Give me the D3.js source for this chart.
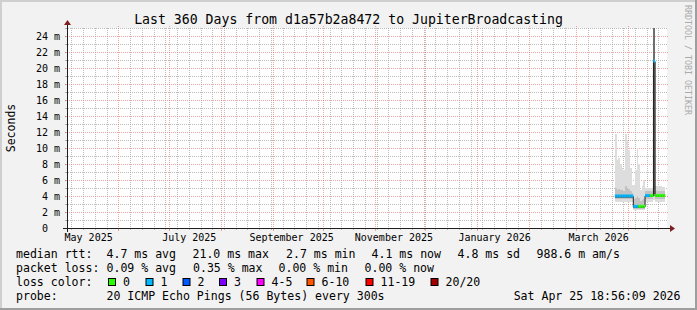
<!DOCTYPE html>
<html>
<head>
<meta charset="utf-8">
<script src="https://cdn.jsdelivr.net/npm/d3@7/dist/d3.min.js"></script>
<style>
  body { margin: 0; background: #f2f2f2; }
  svg { display: block; font-family: "DejaVu Sans Mono", monospace; }
  text { white-space: pre; }
</style>
</head>
<body>
<svg></svg>
<script>
const W = 697, H = 310;
const plotLeft = 67, plotRight = 667, plotTop = 28, plotBottom = 228;

// visible window of the 360 day graph
const viewStart = new Date(2025, 4, 1, 10, 0);
const viewEnd = new Date(2026, 3, 24, 2, 0);

// one consolidated row per day, only the last month has data
const days = [
  "2026-03-24", "2026-03-25", "2026-03-26", "2026-03-27", "2026-03-28",
  "2026-03-29", "2026-03-30", "2026-03-31", "2026-04-01", "2026-04-02",
  "2026-04-03", "2026-04-04", "2026-04-05", "2026-04-06", "2026-04-07",
  "2026-04-08", "2026-04-09", "2026-04-10", "2026-04-11", "2026-04-12",
  "2026-04-13", "2026-04-14", "2026-04-15", "2026-04-16", "2026-04-17",
  "2026-04-18", "2026-04-19", "2026-04-20", "2026-04-21", "2026-04-22"
];
// median rtt in ms
const median = [
  3.95, 3.95, 3.95, 3.95, 3.95, 3.95, 3.95, 3.95, 3.95, 3.95,
  3.95, 2.65, 2.65, 2.65, 2.65, 2.65, 2.65, 2.65, 4.0, 4.0,
  4.0, 4.0, 4.0, 20.8, 4.0, 4.0, 4.0, 4.0, 4.0, 4.0
];
// lost pings (of 20)
const loss = [
  0.1, 0.1, 0.1, 0.1, 0.1, 0.1, 0.1, 0.1, 0.1, 0.1,
  0.1, 0.1, 0.1, 0.1, 0, 0, 0, 0, 0.1, 0.1,
  0.1, 0, 0, 0.1, 0, 0, 0, 0, 0, 0
];
// smoke: spread of the 20 pings (ms)
const smokeMin = [
  3.3, 3.3, 3.3, 3.3, 3.3, 3.3, 3.3, 3.3, 3.3, 3.3,
  3.3, 2.2, 2.2, 2.2, 2.2, 2.2, 2.2, 2.2, 3.2, 3.2,
  3.2, 3.2, 3.2, 3.5, 3.3, 3.3, 3.3, 3.3, 3.3, 3.3
];
const smokeMax = [
  11.8, 8.5, 8.8, 8.0, 7.5, 7.2, 11.8, 11.0, 9.8, 7.5,
  5.4, 5.4, 7.2, 10.0, 8.0, 4.8, 5.2, 6.0, 5.0, 5.0,
  5.0, 5.0, 5.0, 26.0, 5.2, 5.2, 5.2, 5.2, 5.1, 5.1
];
const smokeMidLo = [
  3.6, 3.6, 3.6, 3.6, 3.6, 3.6, 3.6, 3.6, 3.6, 3.6,
  3.6, 2.4, 2.4, 2.4, 2.4, 2.4, 2.4, 2.4, 3.6, 3.6,
  3.6, 3.6, 3.6, 4.0, 3.6, 3.6, 3.6, 3.6, 3.6, 3.6
];
const smokeMidHi = [
  5.0, 4.8, 4.9, 4.8, 4.7, 4.6, 5.2, 5.0, 4.9, 4.6,
  4.4, 3.6, 3.8, 4.0, 3.8, 3.4, 3.5, 3.6, 4.6, 4.6,
  4.6, 4.6, 4.6, 26.0, 4.6, 4.6, 4.6, 4.6, 4.6, 4.6
];
const smokeCoreLo = [
  3.8, 3.8, 3.8, 3.8, 3.8, 3.8, 3.8, 3.8, 3.8, 3.8,
  3.8, 2.5, 2.5, 2.5, 2.5, 2.5, 2.5, 2.5, 3.9, 3.9,
  3.9, 3.9, 3.9, 4.2, 3.9, 3.9, 3.9, 3.9, 3.9, 3.9
];
const smokeCoreHi = [
  4.1, 4.1, 4.1, 4.1, 4.1, 4.1, 4.1, 4.1, 4.1, 4.1,
  4.1, 2.8, 2.8, 2.8, 2.8, 2.8, 2.8, 2.8, 4.1, 4.1,
  4.1, 4.1, 4.1, 26.0, 4.1, 4.1, 4.1, 4.1, 4.1, 4.1
];

const yTicks = [0, 2, 4, 6, 8, 10, 12, 14, 16, 18, 20, 22, 24];
const xLabels = ["May 2025", "July 2025", "September 2025", "November 2025", "January 2026", "March 2026"];
const xLabelDates = ["2025-05-14", "2025-07-13", "2025-09-12", "2025-11-12", "2026-01-11", "2026-03-14"];

const lossLabels = ["0", "1", "2", "3", "4-5", "6-10", "11-19", "20/20"];
const lossUpper = [0, 1, 2, 3, 5, 10, 19, 20];
const lossColors = ["#26ff00", "#00b8ff", "#0059ff", "#7e00ff", "#ff00ff", "#ff5500", "#ff0000", "#a10000"];

const rttLegend = ["median rtt:", "4.7 ms avg", "21.0 ms max", "2.7 ms min", "4.1 ms now", "4.8 ms sd", "988.6 m am/s"];
const lossLegend = ["packet loss:", "0.09 % avg", "0.35 % max", "0.00 % min", "0.00 % now"];
const probeLegend = ["probe:", "20 ICMP Echo Pings (56 Bytes) every 300s"];
const stamp = "Sat Apr 25 18:56:09 2026";
const title = "Last 360 Days from d1a57b2a8472 to JupiterBroadcasting";

const parseDay = d3.timeParse("%Y-%m-%d");
const rows = days.map((d, i) => ({
  t0: parseDay(d),
  t1: d3.timeDay.offset(parseDay(d), 1),
  med: median[i], loss: loss[i],
  min: smokeMin[i], max: smokeMax[i],
  midLo: smokeMidLo[i], midHi: smokeMidHi[i],
  coreLo: smokeCoreLo[i], coreHi: smokeCoreHi[i]
}));

const svg = d3.select('svg')
  .attr('width', W)
  .attr('height', H);

// background + 3d frame
svg.append('rect').attr('width', W).attr('height', H).attr('fill', '#f2f2f2');
svg.append('path').attr('d', `M0,0H${W}V2H2V${H}H0Z`).attr('fill', '#cfcfcf');
svg.append('path').attr('d', `M${W},${H}H0V${H - 2}H${W - 2}V0H${W}Z`).attr('fill', '#9e9e9e');

svg.append('rect')
  .attr('x', plotLeft).attr('y', plotTop)
  .attr('width', plotRight - plotLeft).attr('height', plotBottom - plotTop)
  .attr('fill', '#ffffff');

const x = d3.scaleTime().domain([viewStart, viewEnd]).range([plotLeft, plotRight]);
const y = d3.scaleLinear().domain([0, 25]).range([plotBottom, plotTop]);

const grid = svg.append('g').attr('shape-rendering', 'crispEdges');
const minorCol = 'rgba(143,143,143,0.6)';
const majorCol = 'rgba(222,79,79,0.5)';

// horizontal grid
d3.range(1, 26).forEach(v => {
  const major = yTicks.includes(v);
  const yy = Math.round(y(v)) + 0.5;
  grid.append('line')
    .attr('x1', plotLeft - (major ? 2 : 1)).attr('x2', plotRight + (major ? 2 : 1))
    .attr('y1', yy).attr('y2', yy)
    .attr('stroke', major ? majorCol : minorCol)
    .attr('stroke-dasharray', '1,1');
  grid.append('line')
    .attr('x1', plotLeft - 2).attr('x2', plotLeft)
    .attr('y1', yy).attr('y2', yy)
    .attr('stroke', major ? majorCol : minorCol);
});

// vertical grid: weeks (minor) and months (major)
const months = d3.timeMonth.range(d3.timeMonth.ceil(viewStart), viewEnd);
const weeks = d3.timeSunday.range(viewStart, viewEnd)
  .filter(d => !months.some(m => +m === +d));
weeks.forEach(d => {
  const xx = Math.round(x(d)) + 0.5;
  grid.append('line')
    .attr('x1', xx).attr('x2', xx)
    .attr('y1', plotTop).attr('y2', plotBottom)
    .attr('stroke', minorCol).attr('stroke-dasharray', '1,1');
  grid.append('line')
    .attr('x1', xx).attr('x2', xx)
    .attr('y1', plotBottom).attr('y2', plotBottom + 2)
    .attr('stroke', minorCol);
});
months.forEach(d => {
  const xx = Math.round(x(d)) + 0.5;
  grid.append('line')
    .attr('x1', xx).attr('x2', xx)
    .attr('y1', plotTop - 2).attr('y2', plotBottom)
    .attr('stroke', majorCol).attr('stroke-dasharray', '1,1');
  grid.append('line')
    .attr('x1', xx).attr('x2', xx)
    .attr('y1', plotBottom).attr('y2', plotBottom + 3)
    .attr('stroke', majorCol);
});

// smoke
svg.append('clipPath').attr('id', 'plot')
  .append('rect')
  .attr('x', plotLeft).attr('y', plotTop)
  .attr('width', plotRight - plotLeft).attr('height', plotBottom - plotTop);

const data = svg.append('g').attr('clip-path', 'url(#plot)');
const bands = [
  { lo: 'min', hi: 'max', color: '#dddddd' },
  { lo: 'midLo', hi: 'midHi', color: '#c2c2c2' },
  { lo: 'coreLo', hi: 'coreHi', color: '#6e6e6e' }
];
bands.forEach(b => {
  data.append('g').selectAll('rect')
    .data(rows)
    .join('rect')
    .attr('x', d => x(d.t0))
    .attr('width', d => x(d.t1) - x(d.t0))
    .attr('y', d => y(d[b.hi]))
    .attr('height', d => y(d[b.lo]) - y(d[b.hi]))
    .attr('fill', b.color)
    .attr('shape-rendering', 'crispEdges');
});

// median line
const stepPts = rows.map(d => [d.t0, d.med]).concat([[rows[rows.length - 1].t1, rows[rows.length - 1].med]]);
data.append('path')
  .datum(stepPts)
  .attr('d', d3.line().x(d => x(d[0])).y(d => y(d[1])).curve(d3.curveStepAfter))
  .attr('fill', 'none')
  .attr('stroke', '#202020')
  .attr('stroke-width', 1);

const lossColor = v => lossColors[lossUpper.findIndex(u => v <= u)];
data.append('g').selectAll('rect')
  .data(rows)
  .join('rect')
  .attr('x', d => x(d.t0))
  .attr('width', d => x(d.t1) - x(d.t0))
  .attr('y', d => y(d.med) - 2)
  .attr('height', 3)
  .attr('fill', d => lossColor(d.loss));

// axes
const axisCol = '#1f1f1f', arrowCol = '#801f1f';
svg.append('line')
  .attr('x1', plotLeft - 4).attr('x2', plotRight + 4)
  .attr('y1', plotBottom + 0.5).attr('y2', plotBottom + 0.5)
  .attr('stroke', axisCol);
svg.append('line')
  .attr('x1', plotLeft + 0.5).attr('x2', plotLeft + 0.5)
  .attr('y1', plotBottom + 4).attr('y2', plotTop - 4)
  .attr('stroke', axisCol);
svg.append('path')
  .attr('d', `M${plotRight + 3},${plotBottom - 3}L${plotRight + 8},${plotBottom + 0.5}L${plotRight + 3},${plotBottom + 4}Z`)
  .attr('fill', arrowCol);
svg.append('path')
  .attr('d', `M${plotLeft - 3},${plotTop - 3}L${plotLeft + 0.5},${plotTop - 8}L${plotLeft + 4},${plotTop - 3}Z`)
  .attr('fill', arrowCol);

const yAxis = d3.axisLeft(y)
  .tickValues(yTicks)
  .tickSize(0)
  .tickPadding(0)
  .tickFormat(v => v === 0 ? '0  ' : `${v} m`);
svg.append('g')
  .attr('transform', `translate(60,0)`)
  .call(yAxis)
  .call(g => g.select('.domain').remove())
  .selectAll('text')
  .attr('font-family', '"DejaVu Sans Mono", monospace')
  .attr('font-size', 10)
  .attr('fill', '#000');

const xAxis = d3.axisBottom(x)
  .tickValues(xLabelDates.map(parseDay))
  .tickSize(0)
  .tickPadding(0)
  .tickFormat((d, i) => xLabels[i]);
svg.append('g')
  .attr('transform', `translate(0,${plotBottom})`)
  .call(xAxis)
  .call(g => g.select('.domain').remove())
  .selectAll('text')
  .attr('dy', null)
  .attr('y', 13)
  .attr('font-family', '"DejaVu Sans Mono", monospace')
  .attr('font-size', 10)
  .attr('fill', '#000');

// titles
svg.append('text')
  .attr('x', W / 2).attr('y', 24)
  .attr('text-anchor', 'middle')
  .attr('font-size', 13.2)
  .text(title);

svg.append('text')
  .attr('transform', `translate(15,${(plotTop + plotBottom) / 2}) rotate(-90)`)
  .attr('text-anchor', 'middle')
  .attr('font-size', 11.5)
  .text('Seconds');

svg.append('text')
  .attr('transform', 'translate(684.5,5) rotate(90)')
  .attr('font-size', 8.3)
  .attr('fill', '#aaaaaa')
  .text('RRDTOOL / TOBI OETIKER');

// legend
const legend = svg.append('g').attr('font-size', 11.55).attr('fill', '#000');
const rttX = [16, 106.5, 192.5, 286, 371.5, 457.5, 536.5];
const lossX = [16, 106.5, 193, 278.5, 364.5];
rttLegend.forEach((s, i) => legend.append('text').attr('x', rttX[i]).attr('y', 258).text(s));
lossLegend.forEach((s, i) => legend.append('text').attr('x', lossX[i]).attr('y', 272).text(s));

legend.append('text').attr('x', 16).attr('y', 286).text('loss color:');
const boxX = [108.5, 146, 183, 219.5, 257, 307, 366, 431];
lossLabels.forEach((s, i) => {
  legend.append('rect')
    .attr('x', boxX[i]).attr('y', 278.5)
    .attr('width', 7).attr('height', 7)
    .attr('fill', lossColors[i])
    .attr('stroke', '#000');
  legend.append('text').attr('x', boxX[i] + 14.5).attr('y', 286).text(s);
});

const probeX = [16, 106.5];
probeLegend.forEach((s, i) => legend.append('text').attr('x', probeX[i]).attr('y', 300).text(s));
legend.append('text').attr('x', 680.5).attr('y', 300).attr('text-anchor', 'end').text(stamp);
</script>
</body>
</html>
